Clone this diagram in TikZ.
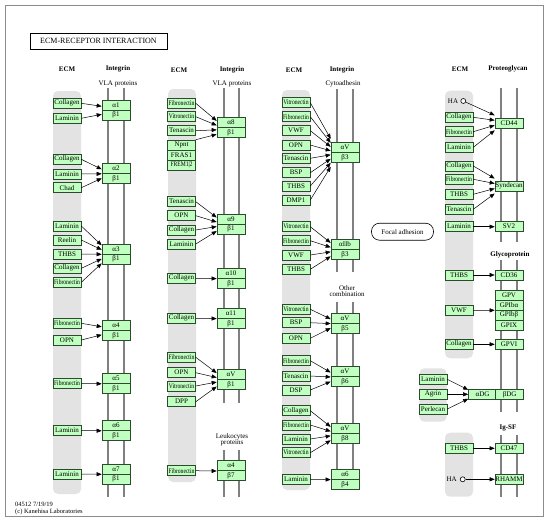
\documentclass[tikz,border=0pt]{standalone}
\usepackage{fontspec}
\setmainfont{Liberation Serif}
\usepackage{graphicx}
\usetikzlibrary{arrows.meta}
\definecolor{kgreen}{HTML}{BFFFBF}
\definecolor{kedge}{HTML}{2E4A2E}
\definecolor{kbar}{HTML}{E3E3E3}
\definecolor{kmem}{HTML}{808080}
\def\sqz#1{\scalebox{0.8}[1]{#1}}
\tikzset{
  gene/.style={draw=kedge, fill=kgreen, minimum width=28pt, minimum height=10pt, inner sep=0pt, line width=0.6pt, font=\fontsize{7}{8}\selectfont},
  arr/.style={-{Triangle[length=5pt,width=4pt]}, line width=0.5pt},
  mem/.style={draw=kmem, line width=1.8pt},
  ecmbar/.style={fill=kbar, rounded corners=5pt},
  hd/.style={font=\bfseries\fontsize{7}{8}\selectfont, inner sep=0pt},
  lbl/.style={font=\fontsize{7}{6.5}\selectfont, align=center, inner sep=0pt},
  hao/.style={circle, draw, fill=white, inner sep=0pt, minimum size=5pt, line width=0.6pt}
}

\begin{document}
\begin{tikzpicture}[x=1pt,y=-1pt]
			%%%%% FRAME %%%%%
			\useasboundingbox (0,0) rectangle (550,525);
			\draw[black!45, line width=0.8pt] (5,5) rectangle (543,516);
			\node[draw, line width=0.7pt, minimum width=137pt, minimum height=16pt, inner sep=0pt, font=\fontsize{8}{9}\selectfont] (title) at (98.5,41) {ECM-RECEPTOR INTERACTION};
			\node[lbl, anchor=west, font=\fontsize{6.5}{7}\selectfont] (mapid) at (15,504) {04512 7/19/19};
			\node[lbl, anchor=west, font=\fontsize{6.5}{7}\selectfont] (copy) at (15,511.5) {(c) Kanehisa Laboratories};
			
			%%%%% COLUMN 1 %%%%%
			\fill[ecmbar] (53,91) rectangle (81,494);
			\draw[mem] (108,88) -- (108,497);
			\draw[mem] (124,88) -- (124,497);
			\node[hd] (ecm1) at (67,69) {ECM};
			\node[hd] (itg1) at (118,69) {Integrin};
			\node[lbl] (vla1) at (118,84) {VLA proteins};
			
			\node[gene] (a1) at (116,105) {α1};
			\node[gene] (a1b) at (116,115) {β1};
			\node[gene] (a1col) at (67,103.3) {Collagen};
			\node[gene] (a1lam) at (67,118.3) {Laminin};
			\draw[arr] (a1col.east) -- ([yshift=4pt]a1.south west);
			\draw[arr] (a1lam.east) -- ([yshift=-4pt]a1.south west);
			
			\node[gene] (a2) at (116,168.5) {α2};
			\node[gene] (a2b) at (116,178.5) {β1};
			\node[gene] (a2col) at (67,159.3) {Collagen};
			\node[gene] (a2lam) at (67,174) {Laminin};
			\node[gene] (a2chad) at (67,187.7) {Chad};
			\draw[arr] (a2col.east) -- ([yshift=4.5pt]a2.south west);
			\draw[arr] (a2lam.east) -- (a2.south west);
			\draw[arr] (a2chad.east) -- ([yshift=-4.5pt]a2.south west);
			
			\node[gene] (a3) at (116,249) {α3};
			\node[gene] (a3b) at (116,259) {β1};
			\node[gene] (a3lam) at (67,226) {Laminin};
			\node[gene] (a3reln) at (67,240) {Reelin};
			\node[gene] (a3thbs) at (67,254) {THBS};
			\node[gene] (a3col) at (67,268.3) {Collagen};
			\node[gene] (a3fn) at (67,282.3) {\sqz{Fibronectin}};
			\draw[arr] (a3lam.east) -- ([yshift=9pt]a3.south west);
			\draw[arr] (a3reln.east) -- ([yshift=4.5pt]a3.south west);
			\draw[arr] (a3thbs.east) -- (a3.south west);
			\draw[arr] (a3col.east) -- ([yshift=-4.5pt]a3.south west);
			\draw[arr] (a3fn.east) -- ([yshift=-9pt]a3.south west);
			
			\node[gene] (a4) at (116,325.5) {α4};
			\node[gene] (a4b) at (116,335.5) {β1};
			\node[gene] (a4fn) at (67,323.3) {\sqz{Fibronectin}};
			\node[gene] (a4opn) at (67,340) {OPN};
			\draw[arr] (a4fn.east) -- ([yshift=4pt]a4.south west);
			\draw[arr] (a4opn.east) -- ([yshift=-4pt]a4.south west);
			
			\node[gene] (a5) at (116,378.5) {α5};
			\node[gene] (a5b) at (116,388.5) {β1};
			\node[gene] (a5fn) at (67,383.5) {\sqz{Fibronectin}};
			\draw[arr] (a5fn.east) -- (a5.south west);
			
			\node[gene] (a6) at (116,425.5) {α6};
			\node[gene] (a6b) at (116,435.5) {β1};
			\node[gene] (a6lam) at (67,430.5) {Laminin};
			\draw[arr] (a6lam.east) -- (a6.south west);
			
			\node[gene] (a7) at (116,469) {α7};
			\node[gene] (a7b) at (116,479) {β1};
			\node[gene] (a7lam) at (67,474) {Laminin};
			\draw[arr] (a7lam.east) -- (a7.south west);
			
			%%%%% COLUMN 2 %%%%%
			\fill[ecmbar] (168,89) rectangle (196,482);
			\draw[mem] (224,88) -- (224,403);
			\draw[mem] (239,88) -- (239,403);
			\draw[mem] (224,450) -- (224,497);
			\draw[mem] (239,450) -- (239,497);
			\node[hd] (ecm2) at (179,70) {ECM};
			\node[hd] (itg2) at (232,70) {Integrin};
			\node[lbl] (vla2) at (232,84) {VLA proteins};
			\node[lbl] (leuko) at (232,440) {Leukocytes\\proteins};
			
			\node[gene] (a8) at (231,122.3) {α8};
			\node[gene] (a8b) at (231,132.3) {β1};
			\node[gene] (a8fn) at (181.5,103.3) {\sqz{Fibronectin}};
			\node[gene] (a8vn) at (181.5,116.7) {\sqz{Vitronectin}};
			\node[gene] (a8tn) at (181.5,130.7) {Tenascin};
			\node[gene] (a8npnt) at (181.5,145) {Npnt};
			\node[gene] (a8fras) at (181.5,155) {FRAS1};
			\node[gene] (a8frem) at (181.5,165) {\sqz{FREM1|2}};
			\draw[arr] (a8fn.east) -- ([yshift=6.75pt]a8.south west);
			\draw[arr] (a8vn.east) -- ([yshift=2.25pt]a8.south west);
			\draw[arr] (a8tn.east) -- ([yshift=-2.25pt]a8.south west);
			\draw[arr] (a8npnt.north east) -- ([yshift=-6.75pt]a8.south west);
			
			\node[gene] (a9) at (231,219) {α9};
			\node[gene] (a9b) at (231,229) {β1};
			\node[gene] (a9tn) at (181.5,201.7) {Tenascin};
			\node[gene] (a9opn) at (181.5,215.7) {OPN};
			\node[gene] (a9col) at (181.5,230) {Collagen};
			\node[gene] (a9lam) at (181.5,244) {Laminin};
			\draw[arr] (a9tn.east) -- ([yshift=6.75pt]a9.south west);
			\draw[arr] (a9opn.east) -- ([yshift=2.25pt]a9.south west);
			\draw[arr] (a9col.east) -- ([yshift=-2.25pt]a9.south west);
			\draw[arr] (a9lam.east) -- ([yshift=-6.75pt]a9.south west);
			
			\node[gene] (a10) at (231,273.3) {α10};
			\node[gene] (a10b) at (231,283.3) {β1};
			\node[gene] (a10col) at (181.5,278.3) {Collagen};
			\draw[arr] (a10col.east) -- (a10.south west);
			
			\node[gene] (a11) at (231,313.3) {α11};
			\node[gene] (a11b) at (231,323.3) {β1};
			\node[gene] (a11col) at (181.5,318.3) {Collagen};
			\draw[arr] (a11col.east) -- (a11.south west);
			
			\node[gene] (av1) at (231,374.5) {αV};
			\node[gene] (av1b) at (231,384.5) {β1};
			\node[gene] (av1fn) at (181.5,357.3) {\sqz{Fibronectin}};
			\node[gene] (av1opn) at (181.5,372.7) {OPN};
			\node[gene] (av1vn) at (181.5,386) {\sqz{Vitronectin}};
			\node[gene] (av1dpp) at (181.5,401.7) {DPP};
			\draw[arr] (av1fn.east) -- ([yshift=6.75pt]av1.south west);
			\draw[arr] (av1opn.east) -- ([yshift=2.25pt]av1.south west);
			\draw[arr] (av1vn.east) -- ([yshift=-2.25pt]av1.south west);
			\draw[arr] (av1dpp.east) -- ([yshift=-6.75pt]av1.south west);
			
			\node[gene] (a47) at (231,465.7) {α4};
			\node[gene] (a47b) at (231,475.7) {β7};
			\node[gene] (a47fn) at (181.5,470.7) {\sqz{Fibronectin}};
			\draw[arr] (a47fn.east) -- (a47.south west);
			
			%%%%% COLUMN 3 %%%%%
			\fill[ecmbar] (282,90) rectangle (310,490);
			\draw[mem] (337,89) -- (337,272);
			\draw[mem] (353,89) -- (353,272);
			\draw[mem] (337,302) -- (337,490);
			\draw[mem] (353,302) -- (353,490);
			\node[hd] (ecm3) at (294,70) {ECM};
			\node[hd] (itg3) at (342,70) {Integrin};
			\node[lbl] (cyto) at (343,84) {Cytoadhesin};
			\node[lbl] (other) at (347,291) {Other\\combination};
			
			\node[gene] (av3) at (345,147.5) {αV};
			\node[gene] (av3b) at (345,157.5) {β3};
			\node[gene] (av3vn) at (296,102.7) {\sqz{Vitronectin}};
			\node[gene] (av3fn) at (296,116.7) {\sqz{Fibronectin}};
			\node[gene] (av3vwf) at (296,130.7) {VWF};
			\node[gene] (av3opn) at (296,145) {OPN};
			\node[gene] (av3tn) at (296,158.3) {Tenascin};
			\node[gene] (av3bsp) at (296,172.7) {BSP};
			\node[gene] (av3thbs) at (296,186) {THBS};
			\node[gene] (av3dmp) at (296,200) {DMP1};
			\draw[arr] (av3vn.east) -- ([yshift=14pt]av3.south west);
			\draw[arr] (av3fn.east) -- ([yshift=10pt]av3.south west);
			\draw[arr] (av3vwf.east) -- ([yshift=6pt]av3.south west);
			\draw[arr] (av3opn.east) -- ([yshift=2pt]av3.south west);
			\draw[arr] (av3tn.east) -- ([yshift=-2pt]av3.south west);
			\draw[arr] (av3bsp.east) -- ([yshift=-6pt]av3.south west);
			\draw[arr] (av3thbs.east) -- ([yshift=-10pt]av3.south west);
			\draw[arr] (av3dmp.east) -- ([yshift=-14pt]av3.south west);
			
			\node[gene] (aIIb) at (345,244.3) {αIIb};
			\node[gene] (aIIbb) at (345,254.3) {β3};
			\node[gene] (aIIbvn) at (296,226.7) {\sqz{Vitronectin}};
			\node[gene] (aIIbfn) at (296,240.7) {\sqz{Fibronectin}};
			\node[gene] (aIIbvwf) at (296,255) {VWF};
			\node[gene] (aIIbthbs) at (296,269.3) {THBS};
			\draw[arr] (aIIbvn.east) -- ([yshift=6.75pt]aIIb.south west);
			\draw[arr] (aIIbfn.east) -- ([yshift=2.25pt]aIIb.south west);
			\draw[arr] (aIIbvwf.east) -- ([yshift=-2.25pt]aIIb.south west);
			\draw[arr] (aIIbthbs.east) -- ([yshift=-6.75pt]aIIb.south west);
			
			\node[gene] (av5) at (345,318.3) {αV};
			\node[gene] (av5b) at (345,328.3) {β5};
			\node[gene] (av5vn) at (296,309.3) {\sqz{Vitronectin}};
			\node[gene] (av5bsp) at (296,322.7) {BSP};
			\node[gene] (av5opn) at (296,338.3) {OPN};
			\draw[arr] (av5vn.east) -- ([yshift=4.5pt]av5.south west);
			\draw[arr] (av5bsp.east) -- (av5.south west);
			\draw[arr] (av5opn.east) -- ([yshift=-4.5pt]av5.south west);
			
			\node[gene] (av6) at (345,371.7) {αV};
			\node[gene] (av6b) at (345,381.7) {β6};
			\node[gene] (av6fn) at (296,360.7) {\sqz{Fibronectin}};
			\node[gene] (av6tn) at (296,376) {Tenascin};
			\node[gene] (av6dsp) at (296,390) {DSP};
			\draw[arr] (av6fn.east) -- ([yshift=4.5pt]av6.south west);
			\draw[arr] (av6tn.east) -- (av6.south west);
			\draw[arr] (av6dsp.east) -- ([yshift=-4.5pt]av6.south west);
			
			\node[gene] (av8) at (345,428.3) {αV};
			\node[gene] (av8b) at (345,438.3) {β8};
			\node[gene] (av8col) at (296,410.7) {Collagen};
			\node[gene] (av8fn) at (296,425) {\sqz{Fibronectin}};
			\node[gene] (av8lam) at (296,439) {Laminin};
			\node[gene] (av8vn) at (296,452.7) {\sqz{Vitronectin}};
			\draw[arr] (av8col.east) -- ([yshift=6.75pt]av8.south west);
			\draw[arr] (av8fn.east) -- ([yshift=2.25pt]av8.south west);
			\draw[arr] (av8lam.east) -- ([yshift=-2.25pt]av8.south west);
			\draw[arr] (av8vn.east) -- ([yshift=-6.75pt]av8.south west);
			
			\node[gene] (a64) at (345,474.3) {α6};
			\node[gene] (a64b) at (345,484.3) {β4};
			\node[gene] (a64lam) at (296,479.3) {Laminin};
			\draw[arr] (a64lam.east) -- (a64.south west);
			
			%%%%% FOCAL ADHESION %%%%%
			\node[lbl, draw, line width=0.6pt, rounded corners=8pt, minimum width=62pt, minimum height=17pt] (focal) at (402.5,231.7) {Focal adhesion};
			
			%%%%% COLUMN 4 %%%%%
			\fill[ecmbar] (445,90.7) rectangle (473,358.3);
			\fill[ecmbar] (419.3,368.3) rectangle (446.7,421.7);
			\fill[ecmbar] (445,432.7) rectangle (473,496.7);
			\draw[mem] (500.7,88.3) -- (500.7,241.7);
			\draw[mem] (516.7,88.3) -- (516.7,241.7);
			\draw[mem] (500.7,260) -- (500.7,411.7);
			\draw[mem] (516.7,260) -- (516.7,411.7);
			\draw[mem] (500.7,435) -- (500.7,496.7);
			\draw[mem] (516.7,435) -- (516.7,496.7);
			\node[hd] (ecm4) at (460,69.3) {ECM};
			\node[hd] (pgly) at (508,69.3) {Proteoglycan};
			\node[hd] (gprot) at (510,254.5) {Glycoprotein};
			\node[hd] (igsf) at (508,428.3) {Ig-SF};
			
			\node[gene] (cd44) at (509,123.3) {CD44};
			\node[lbl] (ha1) at (453,101) {HA};
			\node[hao] (ha1o) at (463.3,101) {};
			\node[gene] (cd44col) at (459,117.3) {Collagen};
			\node[gene] (cd44fn) at (459,131.7) {\sqz{Fibronectin}};
			\node[gene] (cd44lam) at (459,147.3) {Laminin};
			\draw[arr] (ha1o) -- ([yshift=8pt]cd44.west);
			\draw[arr] (cd44col.east) -- ([yshift=3pt]cd44.west);
			\draw[arr] (cd44fn.east) -- ([yshift=-2pt]cd44.west);
			\draw[arr] (cd44lam.east) -- ([yshift=-7pt]cd44.west);
			
			\node[gene] (synd) at (509,186) {Syndecan};
			\node[gene] (syndcol) at (459,166) {Collagen};
			\node[gene] (syndfn) at (459,179.3) {\sqz{Fibronectin}};
			\node[gene] (syndthbs) at (459,194.3) {THBS};
			\node[gene] (syndtn) at (459,209.3) {Tenascin};
			\draw[arr] (syndcol.east) -- ([yshift=7.5pt]synd.west);
			\draw[arr] (syndfn.east) -- ([yshift=2.5pt]synd.west);
			\draw[arr] (syndthbs.east) -- ([yshift=-2.5pt]synd.west);
			\draw[arr] (syndtn.east) -- ([yshift=-7.5pt]synd.west);
			
			\node[gene] (sv2) at (509,226.7) {SV2};
			\node[gene] (sv2lam) at (459,226.7) {Laminin};
			\draw[arr] (sv2lam.east) -- (sv2.west);
			
			\node[gene] (cd36) at (509,275) {CD36};
			\node[gene] (cd36thbs) at (459,275) {THBS};
			\draw[arr] (cd36thbs.east) -- (cd36.west);
			
			\node[gene] (gpv) at (509,295) {GPV};
			\node[gene] (gpiba) at (509,305) {GPIbα};
			\node[gene] (gpibb) at (509,315) {GPIbβ};
			\node[gene] (gpix) at (509,325) {GPIX};
			\node[gene] (gpvwf) at (459,310.5) {VWF};
			\draw[arr] (gpvwf.east) -- (gpiba.south west);
			
			\node[gene] (gpvi) at (509,344.3) {GPVI};
			\node[gene] (gpvicol) at (459,344.3) {Collagen};
			\draw[arr] (gpvicol.east) -- (gpvi.west);
			
			\node[gene] (adg) at (482.5,394.3) {αDG};
			\node[gene] (bdg) at (509.7,394.3) {βDG};
			\node[gene] (adglam) at (433,379.3) {Laminin};
			\node[gene] (adgagrn) at (433,394.3) {Agrin};
			\node[gene] (adgperl) at (433,409) {Perlecan};
			\draw[arr] (adglam.east) -- ([yshift=4.5pt]adg.west);
			\draw[arr] (adgagrn.east) -- (adg.west);
			\draw[arr] (adgperl.east) -- ([yshift=-4.5pt]adg.west);
			
			\node[gene] (cd47) at (509,448.3) {CD47};
			\node[gene] (cd47thbs) at (459,448.3) {THBS};
			\draw[arr] (cd47thbs.east) -- (cd47.west);
			
			\node[gene] (rhamm) at (509,479.3) {RHAMM};
			\node[lbl] (ha2) at (451.7,479.3) {HA};
			\node[hao] (ha2o) at (462.7,479.3) {};
			\draw[arr] (ha2o) -- (rhamm.west);
			
			%%%%% END %%%%%
\end{tikzpicture}
\end{document}
